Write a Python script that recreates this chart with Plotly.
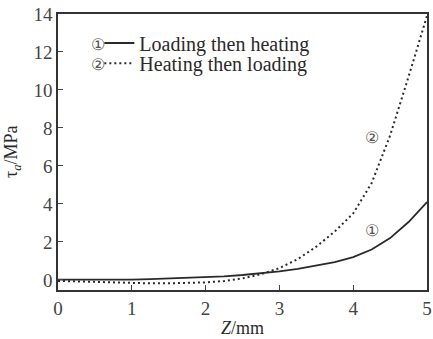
import plotly.graph_objects as go

z1 = [0, 0.25, 0.5, 0.75, 1, 1.25, 1.5, 1.75, 2, 2.25, 2.5, 2.75, 3, 3.25, 3.5, 3.75, 4, 4.25, 4.5, 4.75, 5]
tau1 = [0.02, 0.02, 0.0, 0.0, 0.02, 0.04, 0.07, 0.1, 0.14, 0.19, 0.26, 0.35, 0.45, 0.58, 0.74, 0.94, 1.2, 1.6, 2.2, 3.05, 4.1]
z2 = [0, 0.25, 0.5, 0.75, 1, 1.25, 1.5, 1.75, 2, 2.25, 2.5, 2.75, 3, 3.25, 3.5, 3.75, 4, 4.25, 4.5, 4.75, 5]
tau2 = [-0.05, -0.08, -0.12, -0.15, -0.17, -0.18, -0.18, -0.16, -0.13, -0.06, 0.08, 0.3, 0.62, 1.1, 1.75, 2.55, 3.5, 5.1, 7.6, 10.7, 13.9]
name1 = "Loading then heating"
name2 = "Heating then loading"
xticks = [0, 1, 2, 3, 4, 5]
yticks = [0, 2, 4, 6, 8, 10, 12, 14]

ink = "#2a2a2a"
font = "Liberation Serif, Times New Roman, serif"

fig = go.Figure()
fig.add_trace(go.Scatter(x=z1, y=tau1, mode="lines", name=name1, legend="legend",
                         line=dict(color=ink, width=1.8)))
fig.add_trace(go.Scatter(x=z2, y=tau2, mode="lines", name=name2, legend="legend2",
                         line=dict(color=ink, width=2, dash="2px,3px")))

circ = dict(size=16, color="#555", family=font)
fig.add_annotation(x=4.25, y=7.5, text="②", showarrow=False, font=circ)
fig.add_annotation(x=4.25, y=2.6, text="①", showarrow=False, font=circ)
fig.add_annotation(xref="paper", yref="paper", x=0.084, y=0.928, text="①", showarrow=False, font=circ)
fig.add_annotation(xref="paper", yref="paper", x=0.084, y=0.855, text="②", showarrow=False, font=circ)

# axis titles
fig.add_annotation(xref="paper", yref="paper", x=0, y=0.5, xshift=-46, text="τ<sub><i>a</i></sub>/MPa",
                   textangle=-90, showarrow=False, xanchor="center", yanchor="middle",
                   font=dict(size=18, family=font, color=ink))
fig.add_annotation(xref="paper", yref="paper", x=0.5, y=0, yshift=-38, text="<i>Z</i>/mm",
                   showarrow=False, xanchor="center", yanchor="middle",
                   font=dict(size=18, family=font, color=ink))

leg = dict(xanchor="left", yanchor="middle", bgcolor="rgba(0,0,0,0)",
           font=dict(size=20, family=font, color=ink), itemwidth=30)
fig.update_layout(
    width=433, height=339,
    margin=dict(l=58, r=6, t=14, b=49),
    plot_bgcolor="white", paper_bgcolor="white",
    font=dict(family=font, size=19, color=ink),
    showlegend=True,
    legend=dict(x=0.112, y=0.895, **leg),
    legend2=dict(x=0.112, y=0.822, **leg),
    xaxis=dict(range=[0, 5], tickvals=xticks, ticks="inside", ticklen=5,
               showline=True, mirror=True, linecolor="#333", linewidth=1.5,
               showgrid=False, zeroline=False, automargin=False,
               tickfont=dict(size=19, color="#444")),
    yaxis=dict(range=[-0.53, 14], tickvals=yticks, ticks="inside", ticklen=5,
               showline=True, mirror=True, linecolor="#333", linewidth=1.5,
               showgrid=False, zeroline=False, automargin=False,
               tickfont=dict(size=19, color="#444")),
)

fig.write_html("out.html", config={"displayModeBar": False},
               post_script="document.body.style.margin='0';document.body.style.padding='0';")
